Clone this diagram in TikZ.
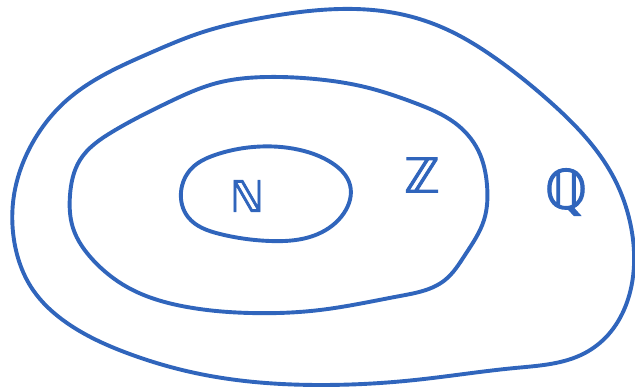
\documentclass[tikz,border=0pt]{standalone}
\usepackage{fontspec}
\usetikzlibrary{hobby}
\newfontfamily\dsfont[FakeBold=2]{DejaVu Sans}
\definecolor{pen}{RGB}{48,101,188}
\begin{document}
\begin{tikzpicture}[x=1pt,y=-1pt,
  stroke/.style={draw=pen,line width=3.9pt,line cap=round,line join=round,use Hobby shortcut,closed=true},
  setlabel/.style={text=pen,inner sep=0pt,font=\dsfont}]
\useasboundingbox (0,0) rectangle (635,390);
% outer set Q
\draw[stroke] (340,9) .. (400,14) .. (448,30) .. (498,60) .. (548,100) .. (588,140)
 .. (615,180) .. (630,222) .. (634,265) .. (626,305) .. (608,335) .. (585,353)
 .. (515,368) .. (415,380) .. (320,385) .. (200,374) .. (127,353) .. (67,323)
 .. (33,290) .. (14,240) .. (14,195) .. (33,142) .. (67,100) .. (100,77)
 .. (150,53) .. (200,33) .. (267,17);
% middle set Z
\draw[stroke] (315,79) .. (365,87) .. (415,103) .. (455,123) .. (478,150)
 .. (487,185) .. (484,220) .. (465,255) .. (445,280) .. (400,296) .. (320,310)
 .. (250,313) .. (187,307) .. (127,287) .. (93,260) .. (73,228) .. (70,195)
 .. (80,160) .. (112,132) .. (167,103) .. (217,83) .. (267,77);
% inner set N
\draw[stroke] (253,147) .. (300,150) .. (332,163) .. (350,185) .. (344,213)
 .. (318,234) .. (270,241) .. (220,234) .. (188,217) .. (181,192) .. (192,168)
 .. (215,155);
\node[setlabel] (N) at (247,196) {\fontsize{43}{43}\selectfont ℕ};
\node[setlabel] (Z) at (422,175) {\fontsize{48}{48}\selectfont ℤ};
\node[setlabel] (Q) at (566,192) {\fontsize{54}{54}\selectfont ℚ};
\end{tikzpicture}
\end{document}
